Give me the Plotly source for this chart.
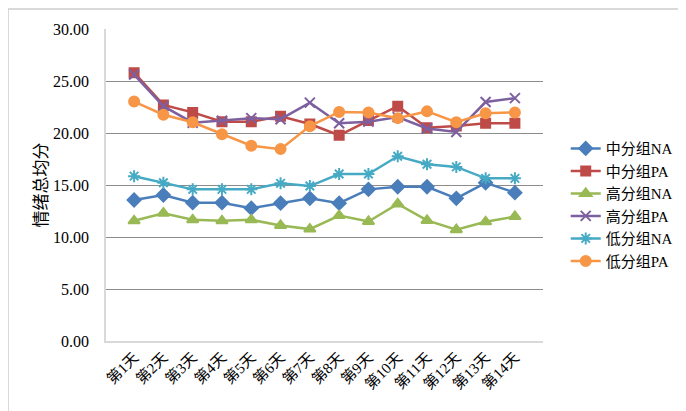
import plotly.graph_objects as go

days = ['第1天', '第2天', '第3天', '第4天', '第5天', '第6天', '第7天',
        '第8天', '第9天', '第10天', '第11天', '第12天', '第13天', '第14天']

mid_na = [13.56, 14.04, 13.30, 13.30, 12.77, 13.25, 13.72, 13.25, 14.58, 14.83, 14.83, 13.72, 15.21, 14.26]
mid_pa = [25.80, 22.70, 21.98, 21.09, 21.09, 21.60, 20.86, 19.78, 21.20, 22.58, 20.50, 20.67, 20.93, 20.93]
high_na = [11.56, 12.29, 11.65, 11.56, 11.65, 11.11, 10.76, 12.06, 11.49, 13.18, 11.59, 10.70, 11.46, 11.97]
high_pa = [25.62, 22.58, 20.99, 21.19, 21.43, 21.33, 22.92, 20.93, 21.09, 21.53, 20.44, 20.10, 22.98, 23.35]
low_na = [15.85, 15.21, 14.58, 14.58, 14.58, 15.16, 14.90, 16.05, 16.05, 17.76, 17.00, 16.74, 15.64, 15.64]
low_pa = [23.02, 21.76, 21.03, 19.87, 18.78, 18.45, 20.66, 22.02, 21.98, 21.43, 22.08, 21.03, 21.89, 21.98]

# name, values, colour, marker symbol, marker size
series = [
    ('中分组NA', mid_na, '#4a7ebb', 'diamond', 10),
    ('中分组PA', mid_pa, '#be4b48', 'square', 9),
    ('高分组NA', high_na, '#98b954', 'triangle-up', 10),
    ('高分组PA', high_pa, '#7d60a0', 'x-thin-open', 10),
    ('低分组NA', low_na, '#46aac5', 'asterisk-open', 10),
    ('低分组PA', low_pa, '#f79646', 'circle', 10),
]

serif = 'Liberation Serif, Noto Sans CJK SC'

fig = go.Figure()
for name, vals, col, sym, sz in series:
    fig.add_trace(go.Scatter(
        x=days, y=vals, name=name, mode='lines+markers',
        line=dict(color=col, width=2.5),
        marker=dict(symbol=sym, size=sz, color=col,
                    line=dict(color=col, width=2))
    ))

# the page body adds an 8px margin, so margins are set 8px smaller on top/left
fig.update_layout(
    width=686, height=411,
    margin=dict(l=98, r=151, t=21, b=78),
    plot_bgcolor='white', paper_bgcolor='white',
    font=dict(family=serif, color='black'),
    showlegend=True,
    legend=dict(x=1.052, y=0.437, xanchor='left', yanchor='middle',
                font=dict(size=15, family=serif), tracegroupgap=0,
                itemwidth=30),
    shapes=[dict(type='rect', xref='paper', yref='paper',
                 x0=-0.2243, x1=1.6, y0=-0.5, y1=1.064,
                 line=dict(color='#d9d9d9', width=2), layer='below')],
)
fig.update_xaxes(
    showline=True, linecolor='#d9d9d9', linewidth=1.5,
    showgrid=False, ticks='', tickangle=-45,
    tickfont=dict(size=15, family=serif)
)
fig.update_yaxes(
    range=[0, 30], dtick=5, tickformat='.2f',
    showline=True, linecolor='#d9d9d9', linewidth=1.5,
    showgrid=True, gridcolor='#8c8c8c', gridwidth=1, zeroline=False,
    ticks='', ticklabelstandoff=12,
    tickfont=dict(size=16, family=serif),
    title=dict(text='情绪总均分', font=dict(size=17, family=serif), standoff=1)
)

fig.write_html("out.html")
